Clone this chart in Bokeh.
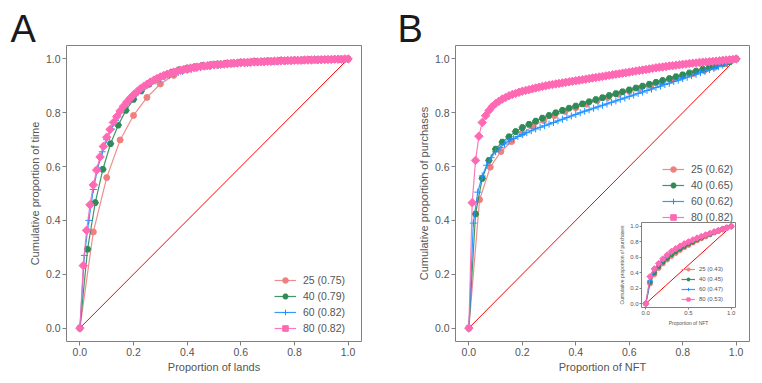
import numpy as np
from bokeh.plotting import figure
from bokeh.layouts import row
from bokeh.models import (Legend, LegendItem, Title, Range1d, FixedTicker,
                          PrintfTickFormatter)
from bokeh.embed import file_html
from bokeh.resources import INLINE

# ---------------- data ----------------
groups = ["25", "40", "60", "80"]
colors = ["#F08080", "#2E8B57", "#1E90FF", "#FF69B4"]
markers = ["circle", "hex", "cross", "square"]
angles = [0, 0, 0, np.pi / 4]

gini_A = ["0.75", "0.79", "0.82", "0.82"]
gini_B = ["0.62", "0.65", "0.62", "0.82"]
gini_inset = ["0.43", "0.45", "0.47", "0.53"]

diag_x = [0, 1]
diag_y = [0, 1]

ticks_main = [0.0, 0.2, 0.4, 0.6, 0.8, 1.0]
ticks_inset_x = [0.0, 0.5, 1.0]
ticks_inset_y = [0.0, 0.2, 0.4, 0.6, 0.8, 1.0]

# Panel A: cumulative proportion of time vs proportion of lands
A_y25 = [0, 0.357, 0.559, 0.699, 0.790, 0.857, 0.907, 0.939, 0.960, 0.972, 0.980,
         0.985, 0.989, 0.992, 0.994, 0.996, 0.997, 0.998, 0.999, 0.9995, 1.0]
A_y40 = [0, 0.293, 0.466, 0.590, 0.685, 0.754, 0.809, 0.850, 0.881, 0.906, 0.925,
         0.940, 0.951, 0.960, 0.966, 0.971, 0.975, 0.978, 0.981, 0.983, 0.985,
         0.987, 0.988, 0.990, 0.991, 0.992, 0.993, 0.994, 0.995, 0.996, 0.997,
         0.997, 0.998, 0.999, 0.999, 1.0]
A_y60 = [0, 0.27, 0.40, 0.515, 0.595, 0.655, 0.700, 0.740, 0.772, 0.800,
         0.823, 0.843, 0.860, 0.875, 0.888, 0.900, 0.910, 0.918, 0.926, 0.933,
         0.939, 0.945, 0.950, 0.954, 0.958, 0.962, 0.965, 0.968, 0.971, 0.973,
         0.975, 0.977, 0.979, 0.980, 0.982, 0.983, 0.984, 0.985, 0.986, 0.987,
         0.988, 0.989, 0.990, 0.990, 0.991, 0.992, 0.992, 0.993, 0.994, 0.994,
         0.995, 0.995, 0.996, 0.996, 0.997, 0.997, 0.998, 0.998, 0.999, 0.999,
         1.0]
A_y80 = [0, 0.232, 0.363, 0.458, 0.532, 0.587, 0.636, 0.675, 0.709, 0.738,
         0.764, 0.786, 0.807, 0.824, 0.840, 0.854, 0.867, 0.878, 0.889, 0.898,
         0.906, 0.914, 0.921, 0.927, 0.933, 0.938, 0.943, 0.947, 0.951, 0.955,
         0.958, 0.961, 0.964, 0.966, 0.968, 0.970, 0.972, 0.974, 0.975, 0.977,
         0.978, 0.979, 0.980, 0.981, 0.982, 0.983, 0.984, 0.985, 0.986, 0.987,
         0.987, 0.988, 0.989, 0.989, 0.990, 0.990, 0.991, 0.991, 0.992, 0.992,
         0.993, 0.993, 0.994, 0.994, 0.995, 0.995, 0.995, 0.996, 0.996, 0.996,
         0.997, 0.997, 0.997, 0.998, 0.998, 0.998, 0.999, 0.999, 0.999, 1.0,
         1.0]

# Panel B: cumulative proportion of purchases vs proportion of NFT
B_y25 = [0, 0.477, 0.598, 0.656, 0.693, 0.724, 0.750, 0.771, 0.789, 0.805, 0.819,
         0.832, 0.845, 0.857, 0.869, 0.880, 0.891, 0.902, 0.913, 0.924, 0.935,
         0.946, 0.957, 0.969, 0.982, 1.0]
B_y40 = [0, 0.424, 0.556, 0.623, 0.665, 0.691, 0.711, 0.730, 0.745, 0.757, 0.769,
         0.780, 0.790, 0.800, 0.809, 0.817, 0.825, 0.833, 0.841, 0.849, 0.856,
         0.864, 0.871, 0.878, 0.885, 0.892, 0.899, 0.906, 0.913, 0.920, 0.927,
         0.934, 0.941, 0.948, 0.955, 0.962, 0.969, 0.976, 0.983, 0.990, 1.0]
B_y60 = [0, 0.39, 0.505, 0.565, 0.605, 0.633, 0.655, 0.671, 0.684, 0.695,
         0.704, 0.712, 0.719, 0.726, 0.733, 0.740, 0.746, 0.752, 0.758, 0.764,
         0.770, 0.776, 0.782, 0.788, 0.794, 0.800, 0.806, 0.811, 0.817, 0.822,
         0.828, 0.833, 0.839, 0.844, 0.850, 0.855, 0.861, 0.866, 0.872, 0.877,
         0.883, 0.888, 0.894, 0.899, 0.905, 0.910, 0.916, 0.921, 0.927, 0.932,
         0.938, 0.943, 0.949, 0.954, 0.960, 0.965, 0.971, 0.977, 0.983, 0.990,
         1.0]
B_y80 = [0, 0.466, 0.623, 0.713, 0.764, 0.789, 0.808, 0.823, 0.834, 0.843,
         0.851, 0.857, 0.863, 0.868, 0.872, 0.876, 0.880, 0.883, 0.886, 0.889,
         0.892, 0.895, 0.898, 0.900, 0.903, 0.905, 0.907, 0.909, 0.911, 0.913,
         0.915, 0.917, 0.919, 0.921, 0.923, 0.925, 0.927, 0.929, 0.931, 0.933,
         0.935, 0.937, 0.939, 0.941, 0.943, 0.945, 0.947, 0.949, 0.951, 0.953,
         0.955, 0.957, 0.959, 0.961, 0.963, 0.965, 0.967, 0.969, 0.970, 0.972,
         0.974, 0.975, 0.977, 0.978, 0.980, 0.981, 0.983, 0.984, 0.985, 0.987,
         0.988, 0.989, 0.990, 0.991, 0.992, 0.993, 0.995, 0.996, 0.997, 0.998,
         1.0]

# Inset of panel B
I_y25 = [0, 0.26, 0.38, 0.46, 0.52, 0.57, 0.615, 0.655, 0.695, 0.73, 0.76,
         0.79, 0.82, 0.845, 0.87, 0.895, 0.92, 0.94, 0.962, 0.981, 1.0]
I_y40 = [0, 0.28, 0.40, 0.48, 0.54, 0.59, 0.635, 0.675, 0.71, 0.745, 0.775,
         0.80, 0.83, 0.855, 0.88, 0.90, 0.925, 0.945, 0.965, 0.983, 1.0]
I_y60 = [0, 0.30, 0.42, 0.50, 0.56, 0.61, 0.655, 0.695, 0.73, 0.76, 0.79,
         0.815, 0.84, 0.865, 0.885, 0.905, 0.93, 0.95, 0.968, 0.984, 1.0]
I_y80 = [0, 0.35, 0.45, 0.52, 0.58, 0.63, 0.675, 0.71, 0.745, 0.775, 0.80,
         0.825, 0.85, 0.87, 0.89, 0.91, 0.93, 0.948, 0.965, 0.982, 1.0]

FONT = "Liberation Sans"
GREY = "#808080"
TXT = "#555555"


def style_fig(p, xlabel, ylabel, xticks, yticks, tick_fs, lab_fs,
              tick_len, tick_stand, lab_stand):
    p.xgrid.visible = False
    p.ygrid.visible = False
    p.outline_line_color = GREY
    p.outline_line_alpha = 1.0
    p.outline_line_width = 1
    p.background_fill_color = "white"
    p.border_fill_color = "white"
    p.xaxis.ticker = FixedTicker(ticks=xticks)
    p.yaxis.ticker = FixedTicker(ticks=yticks)
    p.xaxis.formatter = PrintfTickFormatter(format="%.1f")
    p.yaxis.formatter = PrintfTickFormatter(format="%.1f")
    p.xaxis.axis_label = xlabel
    p.yaxis.axis_label = ylabel
    for ax in (p.xaxis[0], p.yaxis[0]):
        ax.axis_line_color = None
        ax.major_tick_line_color = GREY
        ax.major_tick_out = tick_len
        ax.major_tick_in = 0
        ax.minor_tick_line_color = None
        ax.major_label_text_font = FONT
        ax.major_label_text_font_size = tick_fs
        ax.major_label_text_color = TXT
        ax.major_label_standoff = tick_stand
        ax.axis_label_text_font = FONT
        ax.axis_label_text_font_size = lab_fs
        ax.axis_label_text_font_style = "normal"
        ax.axis_label_text_color = TXT
        ax.axis_label_standoff = lab_stand
    return p


def add_series(p, ys_list, labels, msizes, legend_loc, lg):
    p.line(diag_x, diag_y, color="#FF0000", line_width=1)
    items = []
    for ys, col, mk, ang, ms, lab in zip(ys_list, colors, markers, angles, msizes, labels):
        xs = np.linspace(0, 1, len(ys))
        lr = p.line(xs, ys, color=col, line_width=1.2, line_alpha=0.9)
        sr = p.scatter(xs, ys, marker=mk, size=ms, angle=ang, fill_color=col,
                       line_color=col, line_width=1)
        items.append(LegendItem(label=lab, renderers=[lr, sr]))
    leg = Legend(items=items, location=legend_loc, padding=lg["padding"],
                 spacing=lg["spacing"], label_height=lg["h"], glyph_height=lg["h"],
                 glyph_width=lg["gw"], label_standoff=lg["standoff"],
                 border_line_color=None, background_fill_alpha=0,
                 label_text_font=FONT, label_text_font_size=lg["fs"],
                 label_text_color=TXT)
    p.add_layout(leg)


def panel_letter(p, letter, offset):
    t = Title(text=letter, align="left", offset=offset, standoff=-8,
              text_font=FONT, text_font_size="38px", text_font_style="normal",
              text_color="#1a1a1a", text_line_height=0.9)
    p.add_layout(t, "above")


main_leg = dict(padding=2, spacing=2, h=14, gw=22, standoff=7, fs="10.5px")
inset_leg = dict(padding=1, spacing=2, h=8, gw=14, standoff=4, fs="6px")

# ---- Panel A ----
pA = figure(width=388, height=375, output_backend="svg", toolbar_location=None,
            title=None, x_range=Range1d(-0.05, 1.05), y_range=Range1d(-0.05, 1.05),
            min_border_left=66, min_border_right=27, min_border_top=42,
            min_border_bottom=33)
style_fig(pA, "Proportion of lands", "Cumulative proportion of time",
          ticks_main, ticks_main, "10.5px", "11px", 4, 2, 2)
add_series(pA, [A_y25, A_y40, A_y60, A_y80],
           [f"{g} ({v})" for g, v in zip(groups, gini_A)],
           [6, 6.5, 7, 6], (208, 6), main_leg)
panel_letter(pA, "A", -56)

# ---- Panel B ----
pB = figure(width=366, height=375, output_backend="svg", toolbar_location=None,
            title=None, x_range=Range1d(-0.05, 1.05), y_range=Range1d(-0.05, 1.05),
            min_border_left=67, min_border_right=5, min_border_top=42,
            min_border_bottom=33)
style_fig(pB, "Proportion of NFT", "Cumulative proportion of purchases",
          ticks_main, ticks_main, "10.5px", "11px", 4, 2, 2)
add_series(pB, [B_y25, B_y40, B_y60, B_y80],
           [f"{g} ({v})" for g, v in zip(groups, gini_B)],
           [6, 6.5, 7, 6], (207, 117), main_leg)
panel_letter(pB, "B", -58)

# ---- Inset (placed over panel B) ----
pI = figure(width=120, height=164, output_backend="svg",
            toolbar_location=None, title=None,
            x_range=Range1d(-0.05, 1.05), y_range=Range1d(-0.05, 1.05),
            min_border_left=24, min_border_right=1, min_border_top=45,
            min_border_bottom=19)
style_fig(pI, "Proportion of NFT", "Cumulative proportion of purchases",
          ticks_inset_x, ticks_inset_y, "6px", "5px", 2, 1, 2)
pI.border_fill_alpha = 0
add_series(pI, [I_y25, I_y40, I_y60, I_y80],
           [f"{g} ({v})" for g, v in zip(groups, gini_inset)],
           [5, 5, 5, 4.5], (40, 4), inset_leg)
pI.styles = {"position": "absolute", "left": "616px", "top": "177px", "z-index": "10"}

layout = row(pA, pB, pI)

open("out.html", "w").write(file_html(layout, INLINE))
